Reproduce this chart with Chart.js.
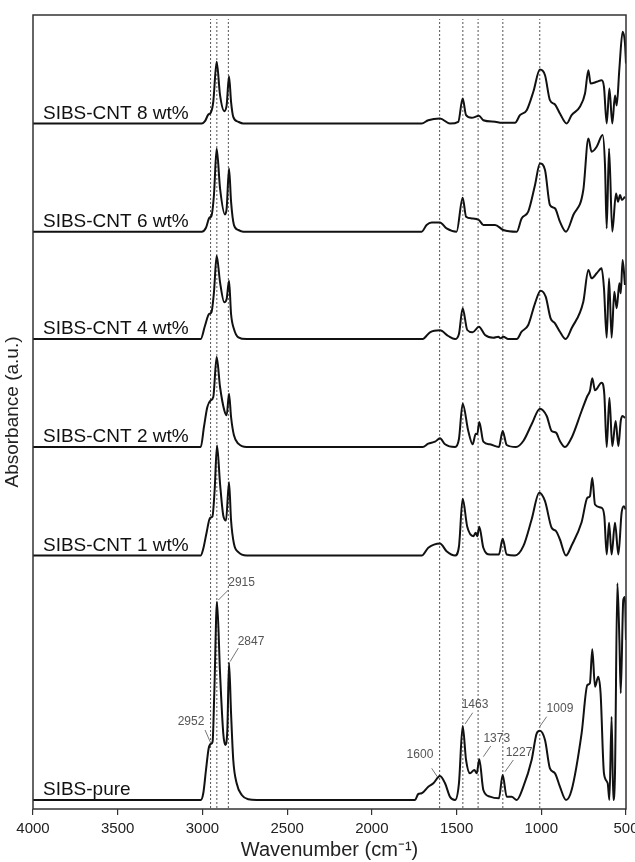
<!DOCTYPE html>
<html>
<head>
<meta charset="utf-8">
<script src="https://cdn.jsdelivr.net/npm/chart.js@4.4.0/dist/chart.umd.min.js"></script>
<style>
	html, body { margin: 0; padding: 0; background: #fff; }
	#wrap { width: 635px; height: 862px; }
</style>
</head>
<body>
<div id="wrap"><canvas id="cnv_ftir" width="635" height="862"></canvas></div>
<script>
// Sample names, bottom trace first
const sampleNames = ['SIBS-pure', 'SIBS-CNT 1 wt%', 'SIBS-CNT 2 wt%', 'SIBS-CNT 4 wt%', 'SIBS-CNT 6 wt%', 'SIBS-CNT 8 wt%'];
// vertical shift of each trace (a.u.)
const stackOffsets = [9, 253.5, 362, 470, 577.3, 685.5];

// [wavenumber, absorbance above own baseline]
const sibsPure = [[4000,0],[3010,0],[2995,6.7],[2979,30],[2963,51.7],[2951,56],[2940,58.3],[2930,106.7],[2914,198.3],[2896,126.7],[2877,66.7],[2865,55],[2853,70],[2843,137.3],[2831,86.7],[2818,40],[2798,16.7],[2768,5],[2729,0.7],[2680,0],
	[1745,0],[1726,6],[1706,6.7],[1667,13.3],[1637,16.7],[1598,24],[1568,16.7],[1539,3.3],[1509,0],[1486,16.7],[1464,74],[1444,40],[1421,26.7],[1395,30],[1381,26.7],[1366,40.7],[1342,10],[1303,3.3],[1250,1.7],[1228,25],[1204,3.3],[1175,3.3],[1145,0],
	[1106,13.3],[1057,40],[1027,66.7],[1008,69.3],[978,60],[949,31.7],[919,26.7],[890,13.3],[854,0],[821,10],[762,66.7],[728,115],[713,116.7],[699,150.7],[683,113.3],[664,123.3],[650,106.7],[630,26.7],[608,16.7],[598,0],[585,83.3],[575,0],[565,26.7],[551,216.7],[539,160],[531,106.7],[516,200],[506,203],[500,160]];
const cnt1 = [[4000,0],[3010,0],[2995,6.7],[2975,23.3],[2955,37.7],[2941,39],[2928,65],[2914,110],[2896,71.7],[2877,40],[2861,35],[2843,73.3],[2831,35],[2814,11.7],[2788,3.3],[2739,0],
	[1706,0],[1667,7.7],[1598,12],[1559,4.3],[1509,0],[1486,9],[1464,56.7],[1437,28.7],[1401,19.3],[1387,22.7],[1378,19.3],[1366,28.7],[1342,7.7],[1303,1],[1250,1],[1228,16.7],[1204,1],[1155,0],
	[1106,9.3],[1057,36],[1012,62.7],[978,54.3],[939,27.7],[913,24.3],[890,16],[854,0],[821,10],[762,33.3],[728,57.7],[713,59.3],[699,77.7],[683,51],[644,47.7],[628,39.3],[614,1],[600,32.7],[585,1],[565,32.7],[545,1],[526,42.7],[512,49.3],[502,46]];
const cnt2 = [[4000,0],[3010,0],[2991,20],[2971,40],[2951,46.7],[2936,50],[2916,90],[2896,60],[2871,36.7],[2857,31.7],[2843,53.3],[2831,30],[2814,11.7],[2788,3.3],[2739,0],
	[1700,0],[1667,3.3],[1627,5.3],[1598,8.7],[1568,2.7],[1509,0],[1486,8],[1464,43.3],[1431,16],[1405,2.7],[1387,13.3],[1378,12.7],[1366,25],[1342,5.3],[1303,2.7],[1250,0],[1228,16],[1204,2],[1149,0],
	[1106,6],[1057,22.7],[1008,38.3],[968,31],[939,16],[913,14.3],[890,6],[860,0],[821,9.3],[762,36],[728,51],[713,56],[699,68.7],[683,56.7],[644,64.3],[628,52.7],[614,0],[598,49.3],[581,0.7],[561,26],[545,0.7],[531,26],[520,31],[506,29]];
const cnt4 = [[4000,0],[3010,0],[2985,13.3],[2961,25],[2947,26.7],[2932,46.7],[2916,83.3],[2896,56.7],[2871,36.7],[2857,40],[2843,58.3],[2831,25],[2814,10],[2788,1.7],[2739,0],
	[1700,0],[1657,6.7],[1598,8.7],[1549,3],[1509,0],[1486,5],[1464,30.7],[1437,9],[1405,6.7],[1368,12.3],[1332,4],[1283,1.3],[1254,2.3],[1240,0.7],[1224,2.3],[1195,0],[1145,0],
	[1116,7.3],[1077,14],[1037,35.7],[1004,48.3],[974,42.3],[945,20.7],[919,15.7],[890,7.3],[856,0],[821,10.7],[752,37.3],[722,69],[703,60.7],[673,65.7],[644,70.7],[630,50.7],[614,1.3],[600,60.7],[585,1.3],[569,47.3],[555,30.7],[539,55.7],[531,45.7],[520,79],[506,54]];
const cnt6 = [[4000,0],[3004,0],[2979,4],[2959,14],[2947,15.7],[2932,36.7],[2916,83.3],[2896,43.3],[2867,17.3],[2857,23.3],[2843,63.3],[2831,30],[2814,6.7],[2788,1.7],[2759,0],
	[1706,0],[1677,6.7],[1647,9.3],[1598,9.3],[1559,3.3],[1500,0],[1464,34],[1444,15],[1411,13.3],[1368,11.7],[1342,6.7],[1273,6.7],[1224,1.7],[1145,0],
	[1116,13.3],[1077,20],[1037,46.7],[1008,68.3],[978,61.7],[949,26.7],[919,23.3],[890,10],[854,0],[811,16.7],[752,41.7],[722,93.3],[703,80],[673,85],[638,96.7],[624,66.7],[614,3.3],[600,83.3],[581,0],[559,38.3],[547,30],[535,36.7],[524,31.7],[506,35]];
const cnt8 = [[4000,0],[3004,0],[2985,2.3],[2965,9],[2951,10.7],[2936,21.7],[2916,61.7],[2896,28.3],[2871,12.3],[2857,18.3],[2843,47.3],[2831,21.7],[2818,6.7],[2788,1.7],[2759,0],
	[1706,0],[1667,3.3],[1598,5],[1539,0],[1490,1.7],[1464,25],[1444,8.3],[1411,5.7],[1368,7.7],[1342,3.3],[1273,1.7],[1234,0.7],[1155,0.7],
	[1126,8.3],[1086,13.3],[1047,31.7],[1008,54],[978,48.3],[949,23.3],[919,19],[890,10],[850,0],[821,8.3],[772,16.7],[742,30],[722,53.3],[709,40],[673,41.7],[644,43.3],[630,36.7],[614,0],[598,35],[581,0],[565,28],[555,18],[539,55],[520,91.7],[506,80],[500,60]];
const spectra = [sibsPure, cnt1, cnt2, cnt4, cnt6, cnt8];

// dotted reference lines and peak labels on the pure trace
const peakMarks = [2952, 2915, 2847, 1600, 1463, 1373, 1227, 1009];
// point on the pure trace where each leader line starts [wavenumber, a.u.]
const peakAnchors = [[2951,66],[2906,209],[2837,147.3],[1614,32.3],[1450,85],[1342,52.3],[1214,37.3],[1012,81.7]];

// leader line vector and label centre offset, px
const leaderVec = [[-5.7,-13],[10,-10],[8.3,-13.7],[-5.6,-8.4],[7.7,-11.3],[7.4,-10.7],[8.3,-11.7],[7.4,-10.6]];
const labelOff = [[-19.7,-21],[23.2,-17],[21,-20],[-17.3,-21.7],[10,-19],[13.4,-18.4],[14,-19],[20.7,-19]];

const FONT = '"Liberation Sans", Arial, sans-serif';

const spectrumSets = spectra.map((spec, i) => ({
	label: sampleNames[i],
	data: spec.map(p => ({ x: p[0], y: p[1] + stackOffsets[i] })),
	borderColor: '#111',
	borderWidth: 2,
	pointRadius: 0,
	cubicInterpolationMode: 'monotone',
	fill: false,
	order: 1
}));

const peakLineSets = peakMarks.map(wn => ({
	label: 'peak ' + wn,
	data: [{ x: wn, y: 1 }, { x: wn, y: 790 }],
	borderColor: '#555',
	borderWidth: 1,
	borderDash: [2, 2],
	pointRadius: 0,
	fill: false,
	order: 2
}));

// frame, trace names, peak numbers
const ftirDecor = {
	id: 'ftirDecor',
	afterDatasetsDraw(chart) {
		const { ctx, chartArea: a, scales: { x, y } } = chart;
		ctx.save();
		ctx.strokeStyle = '#333';
		ctx.lineWidth = 1.5;
		ctx.strokeRect(a.left, a.top, a.right - a.left, a.bottom - a.top);

		ctx.fillStyle = '#111';
		ctx.font = '19px ' + FONT;
		ctx.textAlign = 'left';
		ctx.textBaseline = 'alphabetic';
		sampleNames.forEach((name, i) => {
			ctx.fillText(name, a.left + 10, y.getPixelForValue(stackOffsets[i]) - 5);
		});

		ctx.font = '12px ' + FONT;
		ctx.fillStyle = '#555';
		ctx.strokeStyle = '#777';
		ctx.lineWidth = 1;
		ctx.textAlign = 'center';
		ctx.textBaseline = 'middle';
		peakMarks.forEach((wn, i) => {
			const px = x.getPixelForValue(peakAnchors[i][0]);
			const py = y.getPixelForValue(peakAnchors[i][1]);
			ctx.beginPath();
			ctx.moveTo(px, py);
			ctx.lineTo(px + leaderVec[i][0], py + leaderVec[i][1]);
			ctx.stroke();
			ctx.fillText(String(wn), px + labelOff[i][0], py + labelOff[i][1]);
		});
		ctx.restore();
	}
};

new Chart(document.getElementById('cnv_ftir').getContext('2d'), {
	type: 'line',
	data: { datasets: [...spectrumSets, ...peakLineSets] },
	plugins: [ftirDecor],
	options: {
		responsive: false,
		devicePixelRatio: 1,
		animation: false,
		layout: { padding: { top: 15, right: 9, left: 0, bottom: 0 } },
		plugins: { legend: { display: false }, tooltip: { enabled: false } },
		scales: {
			x: {
				type: 'linear',
				reverse: true,
				min: 500,
				max: 4000,
				border: { display: false },
				grid: { drawOnChartArea: false, drawTicks: true, tickLength: 6, color: '#333', lineWidth: 1.2 },
				ticks: { stepSize: 500, autoSkip: false, maxRotation: 0, padding: 5, color: '#222', font: { size: 15, family: FONT }, callback: v => String(v) },
				title: { display: true, text: 'Wavenumber (cm⁻¹)', color: '#222', font: { size: 20, family: FONT }, padding: { top: 0, bottom: 0 } },
				afterFit: s => { s.height = 53; s.paddingLeft = 0; s.paddingRight = 0; }
			},
			y: {
				min: 0,
				max: 794,
				border: { display: false },
				grid: { display: false },
				ticks: { display: false },
				title: { display: true, text: 'Absorbance (a.u.)', color: '#222', font: { size: 19, family: FONT }, padding: { top: 1, bottom: 0 } },
				afterFit: s => { s.width = 33; }
			}
		}
	}
});
</script>
</body>
</html>
